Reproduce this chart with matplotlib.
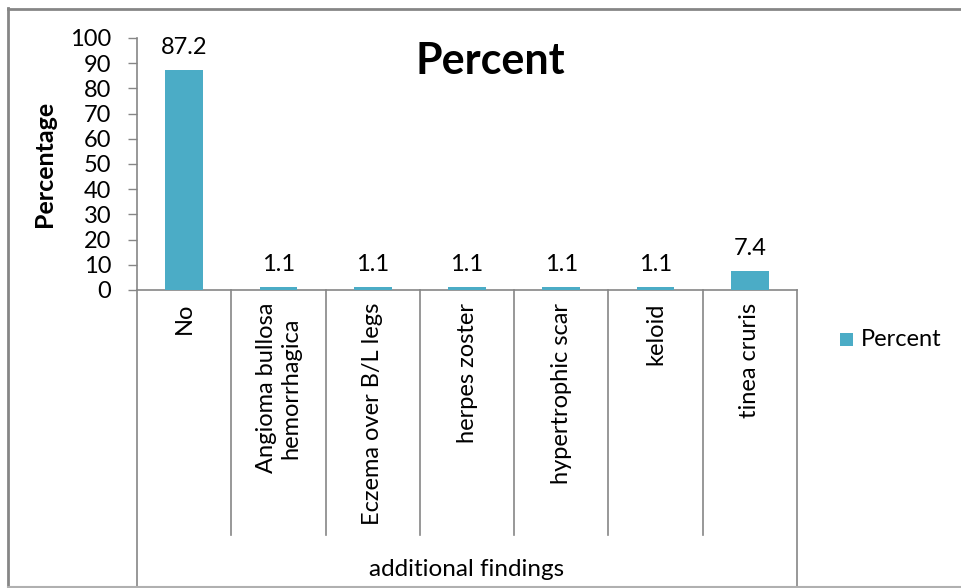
import matplotlib
matplotlib.use("Agg")
import matplotlib.pyplot as plt
from matplotlib.patches import Rectangle
from matplotlib.lines import Line2D

categories = ["No", "Angioma bullosa\nhemorrhagica", "Eczema over B/L legs",
              "herpes zoster", "hypertrophic scar", "keloid", "tinea cruris"]
percent = [87.2, 1.1, 1.1, 1.1, 1.1, 1.1, 7.4]
yticks = [0, 10, 20, 30, 40, 50, 60, 70, 80, 90, 100]

plt.rcParams["font.family"] = ["Lato", "DejaVu Sans"]

W, H = 961, 588
fig = plt.figure(figsize=(W / 100, H / 100), dpi=100)

# plot area in pixel coordinates
x0, x1 = 137, 797
y_top, y_bot = 38, 290
ax = fig.add_axes([x0 / W, 1 - y_bot / H, (x1 - x0) / W, (y_bot - y_top) / H])

bar_color = "#4BACC6"
grid_gray = "#868686"
fs = 17
xs = list(range(len(categories)))
ax.bar(xs, percent, width=0.4, color=bar_color, zorder=3)

ax.set_xlim(-0.5, len(categories) - 0.5)
ax.set_ylim(0, 100)
ax.set_yticks(yticks)
ax.set_yticklabels([str(t) for t in yticks], fontsize=fs)
ax.tick_params(axis="y", length=6.5, width=1, color=grid_gray, pad=12)
ax.set_xticks([])

for s in ["top", "right"]:
    ax.spines[s].set_visible(False)
for s in ["left", "bottom"]:
    ax.spines[s].set_color(grid_gray)
    ax.spines[s].set_linewidth(1.2)

for x, v in zip(xs, percent):
    ax.annotate(f"{v}", (x, v), xytext=(0, 9), textcoords="offset points",
                ha="center", va="bottom", fontsize=fs)

trans = fig.transFigure
fig.text(45 / W, 1 - 164 / H, "Percentage", rotation=90, fontsize=18,
         fontweight="bold", ha="center", va="center")

fig.text(490 / W, 1 - 61 / H, "Percent", fontsize=31, fontweight="bold",
         ha="center", va="center")

# category separators below the axis (multi-level axis look)
sep_bottom = 535
for i in range(len(categories) + 1):
    xp = x0 + i * (x1 - x0) / len(categories)
    yb = H if i in (0, len(categories)) else sep_bottom
    fig.add_artist(Line2D([xp / W, xp / W], [1 - y_bot / H, 1 - yb / H],
                          color=grid_gray, lw=1.2, transform=trans))

for i, c in enumerate(categories):
    xp = x0 + (i + 0.5) * (x1 - x0) / len(categories)
    fig.text(xp / W, 1 - 303 / H, c, rotation=90, ha="center", va="top",
             fontsize=fs, multialignment="center", linespacing=1.2)

fig.text((x0 + x1) / 2 / W, 1 - 569 / H, "additional findings",
         ha="center", va="center", fontsize=17.5)

# legend
fig.add_artist(Rectangle((840 / W, 1 - 346 / H), 13 / W, 13 / H,
                         facecolor=bar_color, edgecolor="none", transform=trans))
fig.text(861 / W, 1 - 340 / H, "Percent", ha="left", va="center", fontsize=fs)

# chart border
fig.add_artist(Line2D([8 / W, 8 / W], [1 - 8 / H, 1 - 587 / H], color=grid_gray,
                      lw=2, transform=trans))
fig.add_artist(Line2D([8 / W, 1], [1 - 8.5 / H, 1 - 8.5 / H], color=grid_gray,
                      lw=2, transform=trans))
fig.add_artist(Line2D([8 / W, 1], [1 - 587 / H, 1 - 587 / H], color="#b0b0b0",
                      lw=1.5, transform=trans))

fig.savefig("out.png", dpi=100)
